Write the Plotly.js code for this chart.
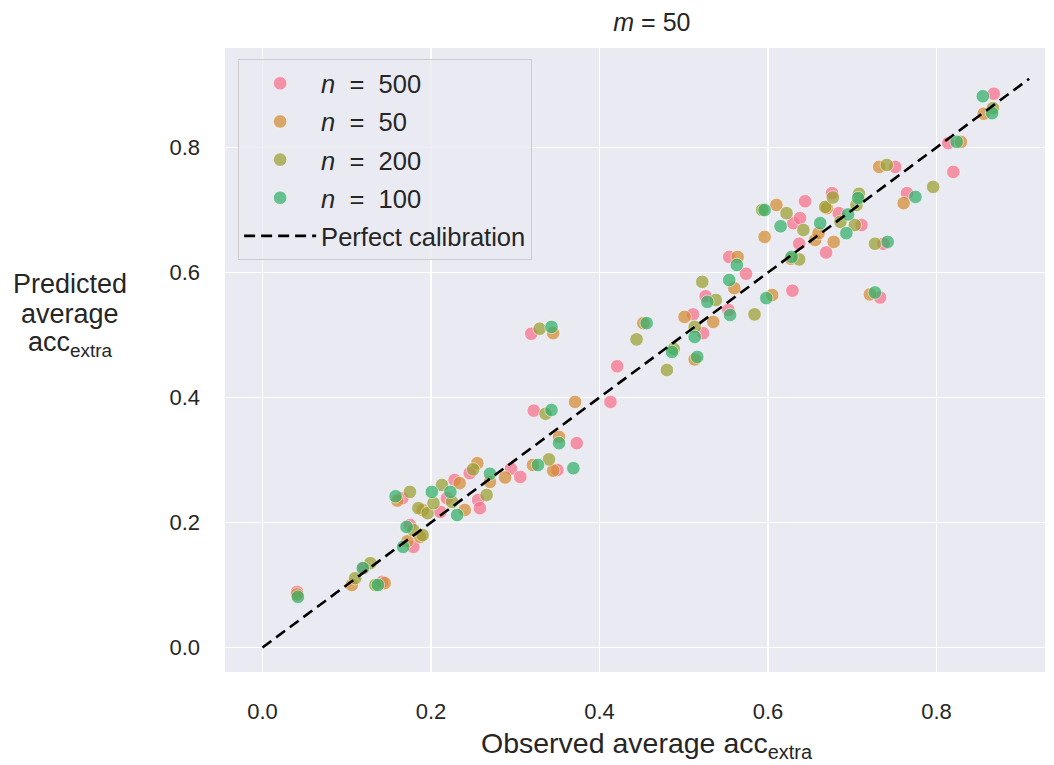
<!DOCTYPE html>
<html>
<head>
<meta charset="utf-8">
<script src="https://cdn.plot.ly/plotly-3.0.1.min.js"></script>
<style>html,body{margin:0;padding:0;background:#fff;}#chart{width:1054px;height:765px;}</style>
</head>
<body>
<div id="chart"></div>
<script>
// Series names (legend order)
const seriesNames = ["<i>n</i>&nbsp;&nbsp;=&nbsp;&nbsp;500", "<i>n</i>&nbsp;&nbsp;=&nbsp;&nbsp;50", "<i>n</i>&nbsp;&nbsp;=&nbsp;&nbsp;200", "<i>n</i>&nbsp;&nbsp;=&nbsp;&nbsp;100"];

// n = 500
const obs500 = [0.041,0.120,0.142,0.166,0.175,0.179,0.211,0.219,0.228,0.246,0.256,0.258,0.295,0.306,0.350,0.373,0.322,0.319,0.413,0.421,0.511,0.523,0.526,0.553,0.554,0.574,0.629,0.630,0.638,0.644,0.637,0.669,0.676,0.684,0.711,0.737,0.733,0.751,0.765,0.820,0.814,0.868];
const pred500 = [0.089,0.127,0.105,0.239,0.196,0.161,0.217,0.239,0.268,0.279,0.236,0.223,0.286,0.273,0.284,0.327,0.379,0.502,0.393,0.450,0.533,0.503,0.562,0.540,0.625,0.598,0.571,0.679,0.687,0.714,0.646,0.632,0.727,0.695,0.676,0.646,0.560,0.769,0.727,0.761,0.807,0.886];

// n = 50
const obs50 = [0.041,0.106,0.145,0.160,0.187,0.172,0.234,0.240,0.255,0.288,0.321,0.345,0.371,0.352,0.345,0.452,0.501,0.513,0.535,0.560,0.564,0.605,0.596,0.610,0.656,0.660,0.670,0.678,0.721,0.732,0.761,0.829,0.856,0.190,0.270,0.627];
const pred50 = [0.085,0.100,0.103,0.235,0.177,0.170,0.263,0.220,0.295,0.272,0.292,0.283,0.393,0.337,0.503,0.519,0.529,0.461,0.521,0.575,0.625,0.564,0.657,0.708,0.652,0.663,0.703,0.649,0.565,0.769,0.711,0.809,0.854,0.220,0.265,0.622];

// n = 200
const obs200 = [0.110,0.128,0.134,0.175,0.185,0.196,0.203,0.213,0.225,0.266,0.179,0.190,0.340,0.336,0.329,0.444,0.480,0.488,0.513,0.522,0.538,0.584,0.593,0.622,0.642,0.637,0.668,0.677,0.686,0.703,0.708,0.705,0.727,0.741,0.796,0.867,0.250];
const pred200 = [0.111,0.135,0.100,0.249,0.223,0.215,0.231,0.260,0.233,0.244,0.188,0.180,0.301,0.374,0.510,0.493,0.444,0.478,0.513,0.585,0.556,0.533,0.700,0.695,0.668,0.621,0.705,0.720,0.681,0.676,0.726,0.708,0.646,0.772,0.737,0.863,0.285];

// n = 100
const obs100 = [0.042,0.119,0.137,0.158,0.171,0.167,0.201,0.223,0.231,0.270,0.327,0.369,0.343,0.352,0.343,0.456,0.486,0.516,0.513,0.528,0.554,0.555,0.563,0.598,0.596,0.615,0.628,0.662,0.693,0.695,0.707,0.742,0.727,0.775,0.824,0.855,0.866];
const pred100 = [0.081,0.127,0.100,0.242,0.193,0.161,0.249,0.249,0.212,0.278,0.292,0.287,0.380,0.327,0.513,0.519,0.473,0.465,0.497,0.553,0.588,0.532,0.612,0.559,0.700,0.674,0.625,0.679,0.663,0.693,0.719,0.649,0.568,0.721,0.809,0.882,0.855];

// Perfect calibration line
const lineX = [0, 0.91];
const lineY = [0, 0.91];

const xTicks = [0.0, 0.2, 0.4, 0.6, 0.8];
const yTicks = [0.0, 0.2, 0.4, 0.6, 0.8];
const tickText = ["0.0", "0.2", "0.4", "0.6", "0.8"];

const titleText = "<i>m</i> = 50";
const xTitle = "Observed average acc<sub>extra</sub>";
const yTitleLines = ["Predicted", "average", "acc<sub>extra</sub>"];

const colors = ["#f77189", "#d58c32", "#9aa032", "#33b06a"];
const xs = [obs500, obs50, obs200, obs100];
const ys = [pred500, pred50, pred200, pred100];

const FONT = "Liberation Sans, Arial, sans-serif";
const TXT = "#262626";
const traces = xs.map((x, i) => ({
  type: "scatter", mode: "markers", x: x, y: ys[i], name: seriesNames[i],
  legendgroup: "g" + i,
  marker: {color: colors[i], size: 13.5, opacity: 0.72, line: {color: "white", width: 0.7}},
  hoverinfo: "x+y"
}));
traces.push({
  type: "scatter", mode: "lines", x: lineX, y: lineY, name: "Perfect calibration",
  legendgroup: "line",
  line: {color: "black", width: 2.6, dash: "11px,6px"}
});

// y-label lines placed individually (paper coords)
const yLabelY = [0.6218, 0.5737, 0.5256];
const annotations = yTitleLines.map((t, i) => ({
  text: t, xref: "paper", yref: "paper", x: -0.189, y: yLabelY[i],
  xanchor: "center", yanchor: "middle", showarrow: false,
  font: {size: 27, color: TXT}
}));
annotations.push({
  text: xTitle, xref: "paper", yref: "paper", x: 0.5146, y: -0.117,
  xanchor: "center", yanchor: "middle", showarrow: false,
  font: {size: 28.5, color: TXT}
});

const layout = {
  width: 1054, height: 765,
  margin: {l: 225, r: 9, t: 48, b: 93},
  paper_bgcolor: "white", plot_bgcolor: "#eaeaf2",
  font: {family: FONT, size: 22, color: TXT},
  title: {text: titleText, x: 0.6185, xanchor: "center", y: 0.971, yanchor: "middle", font: {size: 25, color: TXT}},
  xaxis: {
    range: [-0.0445, 0.9288], tickvals: xTicks, ticktext: tickText,
    showgrid: true, gridcolor: "white", gridwidth: 1.6, zeroline: false, showline: false,
    ticks: "", ticklabelstandoff: 24, tickfont: {size: 22}
  },
  yaxis: {
    range: [-0.0392, 0.9592], tickvals: yTicks, ticktext: tickText,
    showgrid: true, gridcolor: "white", gridwidth: 1.6, zeroline: false, showline: false,
    ticks: "", ticklabelstandoff: 24, tickfont: {size: 22}
  },
  legend: {
    x: 0.016, y: 0.982, xanchor: "left", yanchor: "top",
    bgcolor: "rgba(234,234,242,0.8)", bordercolor: "#cccccc", borderwidth: 1,
    font: {size: 25.5, color: TXT}, itemwidth: 72, tracegroupgap: 2
  },
  annotations: annotations,
  showlegend: true
};

Plotly.newPlot("chart", traces, layout, {displayModeBar: false, staticPlot: true});
</script>
</body>
</html>
